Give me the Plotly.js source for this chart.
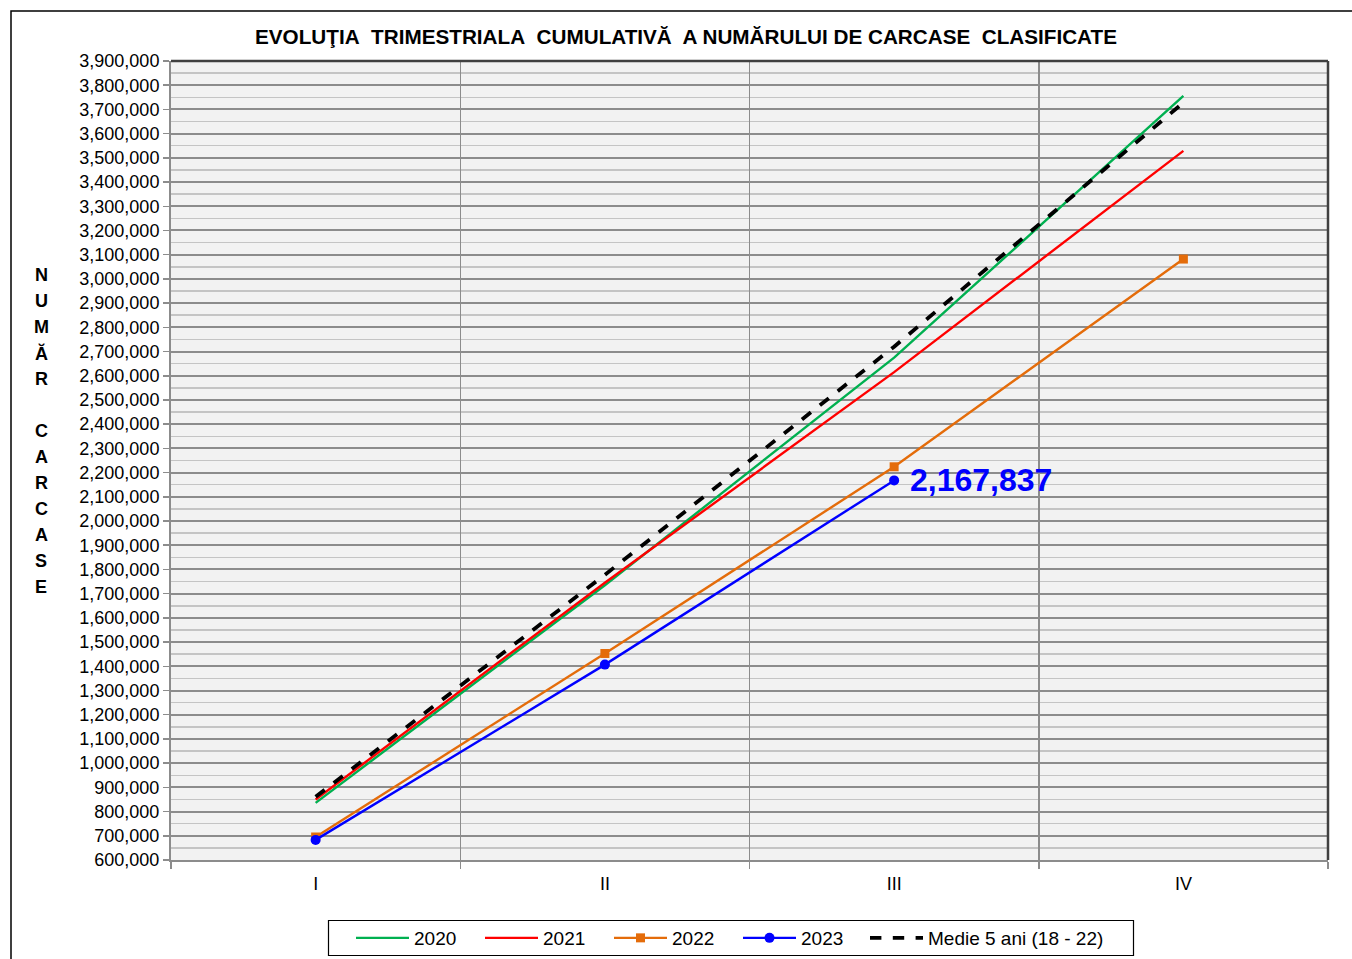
<!DOCTYPE html>
<html>
<head>
<meta charset="utf-8">
<script src="https://cdn.plot.ly/plotly-3.0.1.min.js"></script>
<style>
html,body{margin:0;padding:0;background:#fff;}
#chart{width:1352px;height:959px;}
</style>
</head>
<body>
<div id="chart"></div>
<script>
// ---- data ----
const quarters = ["I", "II", "III", "IV"];
const y2020 = [836000, 1735000, 2675000, 3756000];
const y2021 = [850000, 1745000, 2615000, 3529000];
const y2022 = [695000, 1453000, 2224000, 3082000];
const y2023 = [683000, 1407000, 2167837];
const medie5 = [861000, 1778000, 2720000, 3728000];
const seriesNames = ["2020", "2021", "2022", "2023", "Medie 5 ani (18 - 22)"];
const chartTitle = "EVOLUŢIA\u00a0 TRIMESTRIALA\u00a0 CUMULATIVĂ\u00a0 A NUMĂRULUI DE CARCASE\u00a0 CLASIFICATE";
const axisLetters = ["N","U","M","Ă","R","","C","A","R","C","A","S","E"];

// ---- layout geometry (pixels) ----
const W = 1352, H = 959;
const L = 171, R = 1328, T = 61, B = 860;
const pw = R - L, ph = B - T;
const px2x = p => (p - L) / pw;
const py2y = p => (B - p) / ph;

const FONT = "Liberation Sans, Arial, sans-serif";

const traces = [
  {x: quarters, y: y2020, name: seriesNames[0], mode: "lines",
   line: {color: "#00b050", width: 2.4}},
  {x: quarters, y: y2021, name: seriesNames[1], mode: "lines",
   line: {color: "#ff0000", width: 2.4}},
  {x: quarters, y: y2022, name: seriesNames[2], mode: "lines+markers",
   line: {color: "#e46c0a", width: 2.4},
   marker: {symbol: "square", size: 9, color: "#e46c0a"}},
  {x: quarters.slice(0, y2023.length), y: y2023, name: seriesNames[3], mode: "lines+markers",
   line: {color: "#0000ff", width: 2.4},
   marker: {symbol: "circle", size: 10, color: "#0000ff"}},
  {x: quarters, y: medie5, name: seriesNames[4], mode: "lines", legend: "legend2",
   line: {color: "#000000", width: 3.8, dash: "dash"}}
];

const annotations = [];
// data label for the latest 2023 value
const lastIdx = y2023.length - 1;
annotations.push({
  x: quarters[lastIdx], y: y2023[lastIdx], xref: "x", yref: "y",
  text: "<b>" + y2023[lastIdx].toLocaleString("en-US") + "</b>",
  showarrow: false, xanchor: "left", yanchor: "middle", xshift: 14,
  font: {family: FONT, size: 32, color: "#0000ff"}
});
// stacked vertical axis title
axisLetters.forEach((ch, i) => {
  if (!ch) return;
  annotations.push({
    x: px2x(41), y: py2y(275 + i * 26), xref: "paper", yref: "paper",
    text: "<b>" + ch + "</b>", showarrow: false,
    xanchor: "center", yanchor: "middle",
    font: {family: FONT, size: 18, color: "#000"}
  });
});

const shapes = [
  // outer chart border
  {type: "rect", xref: "paper", yref: "paper",
   x0: px2x(11), x1: px2x(1380), y0: py2y(990), y1: py2y(11),
   line: {color: "#000", width: 1.5}, fillcolor: "rgba(0,0,0,0)", layer: "below"},
  // legend frame
  {type: "rect", xref: "paper", yref: "paper",
   x0: px2x(328.5), x1: px2x(1133.5), y0: py2y(955.5), y1: py2y(920.5),
   line: {color: "#000", width: 1.2}, fillcolor: "#ffffff", layer: "below"},
  // dark top and right plot edges
  {type: "line", xref: "paper", yref: "paper", x0: 0, x1: 1, y0: 1, y1: 1,
   line: {color: "#404040", width: 2.5}},
  {type: "line", xref: "paper", yref: "paper", x0: 1, x1: 1, y0: 0, y1: 1,
   line: {color: "#404040", width: 2.5}}
];

const legendBase = {
  orientation: "h",
  xref: "container", yref: "container",
  xanchor: "left",
  y: 1 - 938 / H, yanchor: "middle",
  borderwidth: 0, bgcolor: "rgba(0,0,0,0)",
  font: {family: FONT, size: 19, color: "#000"},
  itemwidth: 53
};

const layout = {
  width: W, height: H,
  margin: {l: L, r: W - R, t: T, b: H - B, pad: 0},
  paper_bgcolor: "#ffffff",
  plot_bgcolor: "#f2f2f2",
  font: {family: FONT, size: 18, color: "#000"},
  title: {
    text: "<b>" + chartTitle + "</b>",
    x: 686 / W, xref: "container", xanchor: "center",
    y: 1 - 37 / H, yref: "container", yanchor: "middle",
    font: {family: FONT, size: 20.7, color: "#000"}
  },
  xaxis: {
    type: "category",
    categoryarray: quarters,
    range: [-0.5, quarters.length - 0.5],
    tickson: "boundaries",
    ticks: "outside", ticklen: 7, tickcolor: "#8c8c8c", tickwidth: 1.5,
    ticklabelstandoff: 6,
    showgrid: true, gridcolor: "#8c8c8c", gridwidth: 1.5,
    showline: true, linecolor: "#8c8c8c", linewidth: 2,
    tickfont: {family: FONT, size: 18, color: "#000"},
    zeroline: false, fixedrange: true
  },
  yaxis: {
    range: [600000, 3900000],
    dtick: 100000, tick0: 0,
    tickformat: ",d",
    ticks: "outside", ticklen: 6, tickcolor: "#8c8c8c", tickwidth: 1.5,
    showgrid: true, gridcolor: "#8c8c8c", gridwidth: 2,
    minor: {dtick: 50000, showgrid: true, gridcolor: "#c4c4c4", gridwidth: 1.5, ticks: ""},
    showline: true, linecolor: "#8c8c8c", linewidth: 2,
    tickfont: {family: FONT, size: 18, color: "#000"},
    zeroline: false, fixedrange: true
  },
  showlegend: true,
  legend: Object.assign({}, legendBase, {
    x: 351 / W, entrywidth: 61, entrywidthmode: "pixels"
  }),
  legend2: Object.assign({}, legendBase, {
    x: 865 / W
  }),
  annotations: annotations,
  shapes: shapes
};

Plotly.newPlot("chart", traces, layout, {displayModeBar: false, staticPlot: true});
</script>
</body>
</html>
